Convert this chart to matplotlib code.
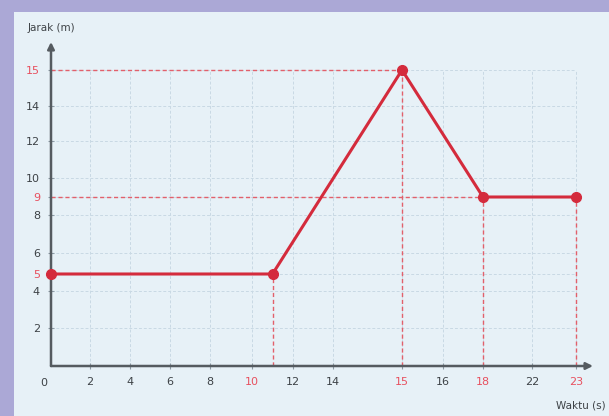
# Jarak vs Waktu chart (piecewise motion graph)

import numpy as np
import matplotlib.pyplot as plt
from matplotlib.patches import Rectangle

# data
waktu = [0, 11, 15, 18, 23]
jarak = [5, 5, 15, 9, 9]

x_ticks = [0, 2, 4, 6, 8, 10, 12, 14, 15, 16, 18, 22, 23]
y_ticks = [0, 2, 4, 5, 6, 8, 9, 10, 12, 14, 15]
x_red = ['10', '15', '18', '23']
y_red = ['5', '9', '15']

# layout: the axis in the picture is not uniform, so map tick values to pixel spots
x_knots = x_ticks + [25]
x_px = [51, 90, 130, 170, 210, 252, 293, 333, 402, 443, 483, 532, 576, 664]
y_knots = y_ticks + [17]
y_px = [366, 328, 291, 274, 253, 215, 197, 178, 141, 106, 70, -2]
y_up = [416 - p for p in y_px]

W, H = 609, 416
RED = '#d42b3c'
RED_LBL = '#e8505f'
DASH = '#e2606b'
AXIS = '#555b60'
TXT = '#3d4246'


def fx(v):
    return np.interp(v, x_knots, x_px)


def fx_inv(p):
    return np.interp(p, x_px, x_knots)


def fy(v):
    return np.interp(v, y_knots, y_up)


def fy_inv(p):
    return np.interp(p, y_up, y_knots)


fig = plt.figure(figsize=(W / 100, H / 100), dpi=100)
fig.patch.set_facecolor('#aba8d6')
fig.patches.append(Rectangle((14 / W, 0), 1, (H - 12) / H, transform=fig.transFigure,
                             facecolor='#e7f1f7', edgecolor='none', zorder=-5))

ax = fig.add_axes([51 / W, 50 / H, (593 - 51) / W, (374 - 50) / H])
ax.set_facecolor('none')
ax.set_zorder(2)
ax.set_xscale('function', functions=(fx, fx_inv))
ax.set_yscale('function', functions=(fy, fy_inv))
xmax = fx_inv(593)
ymax = fy_inv(416 - 42)
ax.set_xlim(0, xmax)
ax.set_ylim(0, ymax)
for s in ax.spines.values():
    s.set_visible(False)

# light grid, only inside the data range
grid_kw = dict(color='#c9d9e4', lw=0.7, linestyle=(0, (3, 2)), zorder=1)
ax.vlines([t for t in x_ticks if t > 0], 0, 15, **grid_kw)
ax.hlines([t for t in y_ticks if t > 0], 0, 23, **grid_kw)

# red guide lines from each point
dash_kw = dict(color=DASH, lw=1.0, linestyle=(0, (3, 2)), zorder=2)
for x, y in zip(waktu[1:], jarak[1:]):
    ax.vlines(x, 0, y, **dash_kw)
ax.hlines(15, 0, 15, **dash_kw)
ax.hlines(9, 0, 18, **dash_kw)

ax.plot(waktu, jarak, color=RED, lw=2.2, marker='o', markersize=7,
        zorder=4, clip_on=False)

# axes with arrows
arrow_kw = dict(arrowstyle='-|>', color=AXIS, lw=1.8, mutation_scale=10,
                shrinkA=0, shrinkB=0)
ax.annotate('', xy=(xmax, 0), xytext=(0, 0), arrowprops=arrow_kw,
            annotation_clip=False, zorder=3)
ax.annotate('', xy=(0, ymax), xytext=(0, 0), arrowprops=arrow_kw,
            annotation_clip=False, zorder=3)

ax.set_xticks(x_ticks[1:])
ax.set_xticklabels([str(t) for t in x_ticks[1:]])
ax.set_yticks(y_ticks[1:])
ax.set_yticklabels([str(t) for t in y_ticks[1:]])
ax.tick_params(axis='both', direction='inout', length=4, width=0.8,
               color='#8d9ba5', labelsize=8, labelcolor=TXT, pad=6)
ax.minorticks_off()
for lbl in ax.get_xticklabels():
    if lbl.get_text() in x_red:
        lbl.set_color(RED_LBL)
for lbl in ax.get_yticklabels():
    if lbl.get_text() in y_red:
        lbl.set_color(RED_LBL)

ax.annotate('0', xy=(0, 0), xytext=(-5, -12), textcoords='offset points',
            ha='center', va='center', fontsize=8, color=TXT, annotation_clip=False)

fig.text(28 / W, 1 - 28 / H, 'Jarak (m)', ha='left', va='center',
         fontsize=7.5, color=TXT)
fig.text(556 / W, 1 - 406 / H, 'Waktu (s)', ha='left', va='center',
         fontsize=7.5, color=TXT)

plt.savefig('out.png', dpi=100, facecolor=fig.get_facecolor())
